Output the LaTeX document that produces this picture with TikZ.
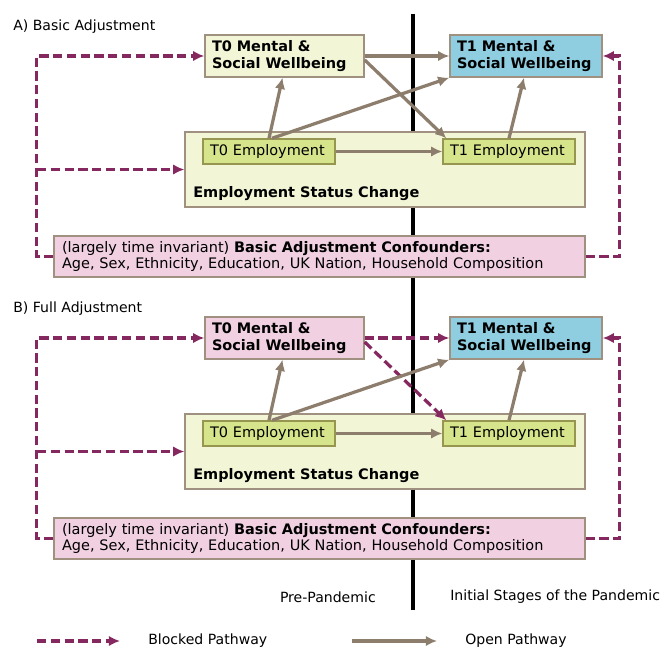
\documentclass[tikz,border=0pt]{standalone}
\usepackage{fontspec}
\setmainfont{DejaVu Sans}
\usetikzlibrary{arrows.meta,calc}

\newlength{\pu}
\setlength{\pu}{0.025cm}

\definecolor{blockc}{RGB}{134,40,96}
\definecolor{openc}{RGB}{140,125,108}
\definecolor{edgec}{RGB}{160,144,128}
\definecolor{lightyel}{RGB}{242,245,214}
\definecolor{empgreen}{RGB}{214,228,140}
\definecolor{empedge}{RGB}{150,150,80}
\definecolor{pinkc}{RGB}{240,208,225}
\definecolor{bluec}{RGB}{143,205,224}

\tikzset{
	box/.style={draw=edgec, line width=1pt, inner ysep=0pt, align=left,
		font=\fontsize{10.3}{12}\selectfont},
	msw/.style={box, font=\fontsize{10.3}{12}\selectfont\bfseries, inner xsep=7\pu,
		text width=#1, minimum height=42\pu},
	emp/.style={box, fill=empgreen, draw=empedge, inner xsep=7\pu,
		text width=118\pu, minimum height=25\pu},
	openarr/.style={draw=openc, line width=2.3pt, -{Latex[length=8pt,width=7.5pt]}},
	blocked/.style={draw=blockc, line width=2.3pt, dash pattern=on 6.6pt off 3.2pt,
		-{Latex[length=8pt,width=7.5pt]}},
	txt/.style={font=\fontsize{10}{12}\selectfont, inner sep=0pt}
}

\begin{document}
\begin{tikzpicture}[x=1\pu, y=-1\pu]
			\useasboundingbox (0,0) rectangle (663,649);
			
			% Divider between the two periods
			\coordinate (divtop) at (413,14);
			\coordinate (divbot) at (413,610);
			\draw[line width=2.2pt] (divtop) -- (divbot);
			
			% Two panels, the second one shifted down
			\foreach \oy/\p/\ttl/\fil/\sty in {0/a/{A) Basic Adjustment}/lightyel/openarr, 282/b/{B) Full Adjustment}/pinkc/blocked}
			{
				\begin{scope}[shift={(0,\oy)}]
					\node[txt, anchor=west] (title\p) at (13,27) {\ttl};
					
					% Boxes
					\node[box, fill=lightyel, minimum width=400\pu, minimum height=75\pu] (esc\p) at (385,169.5) {};
					\node[txt, anchor=west, font=\fontsize{10.3}{12}\selectfont\bfseries] (esclab\p) at (193,194) {Employment Status Change};
					\node[msw=145\pu, fill=\fil] (t0msw\p) at (284.5,56) {T0 Mental \&\\Social Wellbeing};
					\node[msw=138\pu, fill=bluec] (t1msw\p) at (526,56) {T1 Mental \&\\Social Wellbeing};
					\node[emp] (t0emp\p) at (269,151.5) {T0 Employment};
					\node[emp] (t1emp\p) at (509,151.5) {T1 Employment};
					\node[box, fill=pinkc, inner xsep=8\pu, text width=515\pu, minimum height=41\pu] (conf\p) at (319.5,256.5)
						{(largely time invariant) \textbf{Basic Adjustment Confounders:}\\Age, Sex, Ethnicity, Education, UK Nation, Household Composition};
					
					% Blocked pathways from the confounders
					\coordinate (lbranch\p) at (37,169.5);
					\draw[blocked] (conf\p.west) -- ++(-17,0) |- (t0msw\p.west);
					\draw[blocked] (lbranch\p) -- (esc\p.west);
					\draw[blocked] (conf\p.east) -- ++(34,0) |- (t1msw\p.east);
					
					% Pathways between the variables
					\draw[\sty] (t0msw\p.east) -- (t1msw\p.west);
					\draw[\sty] ([yshift=-4\pu]t0msw\p.east) -- ([xshift=4\pu]t1emp\p.north west);
					\draw[openarr] (t0emp\p.north) -- ([xshift=-2\pu]t0msw\p.south);
					\draw[openarr] ([xshift=3\pu]t0emp\p.north) -- (t1msw\p.south west);
					\draw[openarr] (t1emp\p.north) -- ([xshift=-2\pu]t1msw\p.south);
					\draw[openarr] (t0emp\p.east) -- (t1emp\p.west);
				\end{scope}
			}
			
			% Period labels
			\node[txt, anchor=east] (prepan) at (376,597) {Pre-Pandemic};
			\node[txt, anchor=west] (initpan) at (450,597) {Initial Stages of the Pandemic};
			
			% Legend
			\coordinate (blk0) at (37,641);
			\coordinate (blk1) at (120,641);
			\draw[blocked] (blk0) -- (blk1);
			\node[txt, anchor=west] (blklab) at (148,641) {Blocked Pathway};
			\coordinate (opn0) at (352,641);
			\coordinate (opn1) at (437,641);
			\draw[openarr] (opn0) -- (opn1);
			\node[txt, anchor=west] (opnlab) at (465,641) {Open Pathway};
			
\end{tikzpicture}
\end{document}
